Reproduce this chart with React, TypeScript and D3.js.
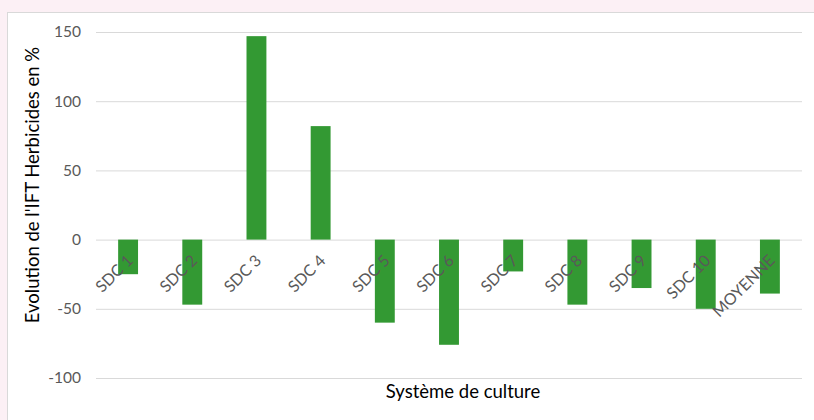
import React, { useEffect, useRef } from 'react';
import * as d3 from 'd3';

const categories = ['SDC 1', 'SDC 2', 'SDC 3', 'SDC 4', 'SDC 5', 'SDC 6', 'SDC 7', 'SDC 8', 'SDC 9', 'SDC 10', 'MOYENNE'];
const values = [-25, -47, 147, 82, -60, -76, -23, -47, -35, -50, -39];
const yTicks = [-100, -50, 0, 50, 100, 150];

function App() {
  const svgRef = useRef<SVGSVGElement>(null);

  useEffect(() => {
    const width = 814;
    const height = 420;
    const left = 96, right = 802, top = 32, bottom = 378;

    const svg = d3.select(svgRef.current)
      .attr('width', width)
      .attr('height', height);
    svg.selectAll('*').remove();

    svg.append('rect')
      .attr('width', width)
      .attr('height', height)
      .attr('fill', '#fcf0f5');
    svg.append('rect')
      .attr('x', 7.5)
      .attr('y', 12.5)
      .attr('width', 830)
      .attr('height', 430)
      .attr('fill', '#fff')
      .attr('stroke', '#d9d9d9');

    const x = d3.scaleBand()
      .domain(categories)
      .range([left, right])
      .paddingInner(0.69)
      .paddingOuter(0.345);

    const y = d3.scaleLinear()
      .domain([-100, 150])
      .range([bottom, top]);

    const font = 'Lato, "Open Sans", sans-serif';

    const yAxis = svg.append('g')
      .attr('transform', `translate(${left},0)`)
      .call(d3.axisLeft(y).tickValues(yTicks).tickSize(-(right - left)).tickPadding(15).tickFormat(d => String(d)));
    yAxis.select('.domain').remove();
    yAxis.selectAll('.tick line').attr('stroke', '#d9d9d9');
    yAxis.selectAll('.tick text')
      .attr('fill', '#595959')
      .attr('font-size', 15.5)
      .attr('font-family', font);

    svg.append('g')
      .selectAll('rect')
      .data(values)
      .enter().append('rect')
      .attr('x', (d, i) => x(categories[i]) as number)
      .attr('y', d => y(Math.max(0, d)))
      .attr('width', x.bandwidth())
      .attr('height', d => Math.abs(y(d) - y(0)))
      .attr('fill', '#339933');

    svg.append('g')
      .selectAll('text')
      .data(categories)
      .enter().append('text')
      .attr('transform', d => `translate(${(x(d) as number) + x.bandwidth() / 2 + 2},${y(0) + 18}) rotate(-45)`)
      .attr('text-anchor', 'end')
      .attr('dy', '0.35em')
      .attr('fill', '#595959')
      .attr('font-size', 16)
      .attr('font-family', font)
      .text(d => d);

    svg.append('text')
      .attr('x', 463)
      .attr('y', 398)
      .attr('text-anchor', 'middle')
      .attr('fill', '#000')
      .attr('font-size', 18.5)
      .attr('font-family', font)
      .text('Système de culture');

    svg.append('text')
      .attr('transform', `translate(39,185) rotate(-90)`)
      .attr('text-anchor', 'middle')
      .attr('fill', '#000')
      .attr('font-size', 18.5)
      .attr('font-family', font)
      .text("Evolution de l'IFT Herbicides en %");
  }, []);

  return (
    <svg ref={svgRef} style={{ position: 'absolute', top: 0, left: 0, display: 'block' }}></svg>
  );
}

export default App;
